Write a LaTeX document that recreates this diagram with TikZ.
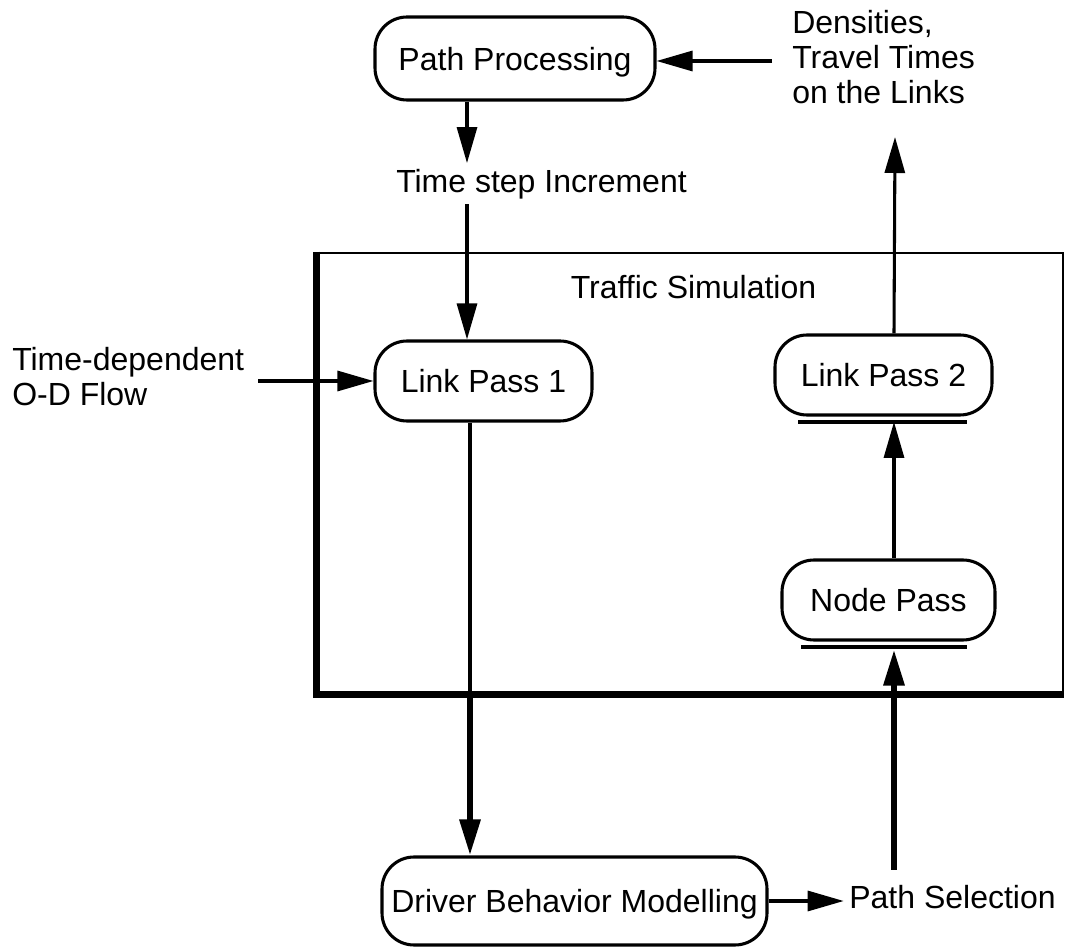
\documentclass[tikz,border=0pt]{standalone}
\usepackage{fontspec}
\setmainfont{Liberation Sans}
\usetikzlibrary{arrows.meta,calc}

\begin{document}
\begin{tikzpicture}[x=0.75pt,y=-0.75pt,
  txt/.style={font=\fontsize{24}{26.25}\selectfont},
  stage/.style={txt, draw, line width=2.3pt, rounded corners=24pt, inner sep=0pt,
                text height=17.5pt, text depth=0pt},
  lbl/.style={txt, inner sep=4pt, text height=17.5pt, text depth=5pt},
  note/.style={txt, inner sep=0pt, align=left, anchor=north west},
  arr/.style={line width=2.3pt, -{Triangle[length=27pt,width=15pt]}},
  boldarr/.style={line width=4.6pt, -{Triangle[length=27pt,width=15pt]}},
  shade/.style={line width=3pt}
]
\useasboundingbox (0,0) rectangle (1065,948);

% simulation frame, heavier on the left and bottom
\node[draw, line width=2.2pt, minimum width=558.75pt, minimum height=330pt, inner sep=0pt]
  (sim) at (690.5,473) {};
\draw[line width=5pt] (sim.north west) -- (sim.south west) -- (sim.south east);
\node[lbl] (simlbl) at (693.5,289.7) {Traffic Simulation};

% processing stages
\node[stage, minimum width=210pt, minimum height=62.25pt] (pp) at (515,58.5) {Path Processing};
\node[stage, minimum width=162.75pt, minimum height=60pt] (lp1) at (483.5,381) {Link Pass 1};
\node[stage, minimum width=162.75pt, minimum height=60pt] (lp2) at (883.5,375) {Link Pass 2};
\node[stage, minimum width=159.75pt, minimum height=60pt] (np) at (888.5,600) {Node Pass};
\node[stage, minimum width=288.75pt, minimum height=66pt] (dbm) at (574.5,901) {Driver Behavior Modelling};

% shadow strokes under the right-hand stages
\draw[shade] ($(lp2.south west)+(25,5)$) -- ($(lp2.south east)+(-27,5)$);
\draw[shade] ($(np.south west)+(21,5)$) -- ($(np.south east)+(-30,5)$);

% free-standing labels
\node[lbl] (ts) at (541.5,183.7) {Time step Increment};
\node[note] (dens) at (792,9.7) {Densities,\\Travel Times\\on the Links};
\node[note] (od) at (12,346.7) {Time-dependent\\O-D Flow};
\node[lbl] (ps) at (952.5,899.7) {Path Selection};

% connector columns and free ends
\coordinate (colA) at (467,0);
\coordinate (colB) at (470,0);
\coordinate (colC) at (894,0);
\coordinate (densin) at (772,61);
\coordinate (densfoot) at (895,137);
\coordinate (odout) at (258,381);
\coordinate (simfoot) at (sim.south -| colB);

% connectors
\draw[arr] (densin) -- (densin -| pp.east);
\draw[arr] (pp.south -| colA) -- (ts.north -| colA);
\draw[arr] (ts.south -| colA) -- (lp1.north -| colA);
\draw[arr] (odout) -- (lp1.west);
\draw[line width=2.3pt] (lp1.south -| colB) -- (simfoot);
\draw[boldarr] (simfoot) -- (dbm.north -| colB);
\draw[arr] (dbm.east) -- (dbm.east -| ps.west);
\draw[boldarr, shorten <=7pt, shorten >=6pt] (ps.north -| colC) -- (np.south -| colC);
\draw[arr, shorten >=4pt] (np.north -| colC) -- (lp2.south -| colC);
\draw[arr] (lp2.north -| colC) -- (densfoot);
\end{tikzpicture}
\end{document}
